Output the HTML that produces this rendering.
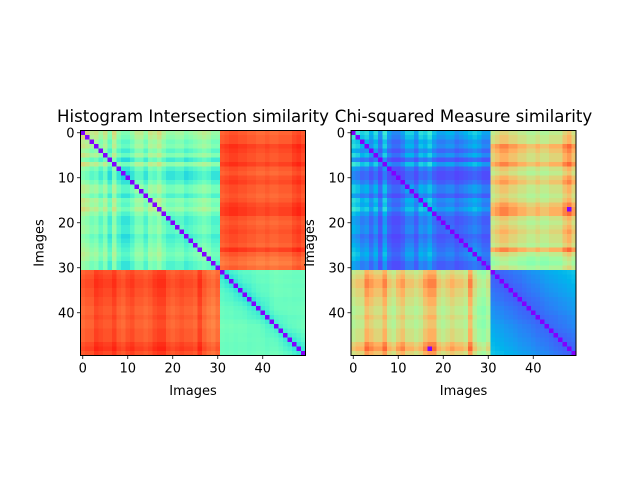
<!DOCTYPE html>
<html><head><meta charset="utf-8"><style>
html,body{margin:0;padding:0;background:#fff;width:640px;height:480px;overflow:hidden}
svg text{font-family:"DejaVu Sans","Liberation Sans",sans-serif;fill:#000}
</style></head><body>
<svg id="fig" width="640" height="480" viewBox="0 0 640 480" xmlns="http://www.w3.org/2000/svg"></svg>
<script>
// per-image features (block A = images 0..30, block B = 31..49)
const imageIds = Array.from({length:50},(_,i)=>i);
const withinFeature = [0.9,0.8,0.6,0.7,0.4,0.7,0.2,0.8,0.3,0.1,0.1,0.3,0.6,0.6,0.3,0.7,0.6,0.8,0.5,0.3,0.3,0.4,0.4,0.2,0.3,0.4,0.5,0.6,0.5,0.3,0.3,
  0.3,0.2,0.3,0.2,0.3,0.3,0.2,0.3,0.4,0.4,0.3,0.5,0.6,0.5,0.4,0.4,0.3,0.3,0.4];
const crossFeature = [0.5,0.6,0.6,0.9,0.8,0.7,0.7,0.9,0.6,0.5,0.7,0.8,0.6,0.6,0.5,0.6,0.8,0.9,0.9,0.6,0.5,0.6,0.7,0.6,0.6,0.5,0.9,0.5,0.3,0.2,0.4,
  0.6,0.7,0.8,0.8,0.7,0.7,0.6,0.6,0.5,0.5,0.6,0.5,0.5,0.6,0.6,0.6,0.8,0.9,0.7];
const tickValues = [0,10,20,30,40];
const titles = ["Histogram Intersection similarity","Chi-squared Measure similarity"];
const blockSplit = 31;

function rainbow(x){x=Math.max(0,Math.min(1,x));
  const r=Math.min(1,Math.abs(2*x-0.5)), g=Math.sin(Math.PI*x), b=Math.cos(Math.PI*x/2);
  return `rgb(${Math.round(r*255)},${Math.round(g*255)},${Math.round(b*255)})`;}
function avg(i,j,arr){return (arr[i]+arr[j])/2;}
function valueHist(i,j){ if(i===j) return 0;
  const a=i<blockSplit,b=j<blockSplit;
  if(a!==b) return 0.74+0.24*avg(i,j,crossFeature);
  if(!a) return 0.42+0.15*avg(i,j,withinFeature)-0.15*Math.exp(-Math.abs(i-j)/3);
  return 0.25+0.5*avg(i,j,withinFeature);}
function valueChi(i,j){ if(i===j) return 0;
  if((i===17&&j===48)||(i===48&&j===17)) return 0;
  const a=i<blockSplit,b=j<blockSplit;
  if(a!==b) return 0.4+0.55*Math.pow(avg(i,j,crossFeature),1.5);
  if(!a) return 0.1+0.18*Math.min(1,Math.abs(i-j)/20)+0.05*avg(i,j,withinFeature);
  return 0.08+0.4*Math.pow(avg(i,j,withinFeature),2);}

const NS="http://www.w3.org/2000/svg", svg=document.getElementById('fig');
function mk(t,at,p){const e=document.createElementNS(NS,t);for(const k in at)e.setAttribute(k,at[k]);(p||svg).appendChild(e);return e;}
const panels=[{x0:80.5,fn:valueHist,name:'histogram'},{x0:351,fn:valueChi,name:'chi-squared'}];
const y0=130.5, size=225, n=imageIds.length, cs=size/n;
const xs=(i,x0)=>x0+i*cs, ys=i=>y0+i*cs;
panels.forEach((p,pi)=>{
  const g=mk('g',{});
  
  
  imageIds.forEach(i=>imageIds.forEach(j=>{
    const r=mk('rect',{x:xs(j,p.x0),y:ys(i),width:cs+0.3,height:cs+0.3,fill:rainbow(p.fn(i,j))},g);
    
    
  }));
  const fr=mk('rect',{x:p.x0,y:y0,width:size,height:size,fill:'none',stroke:'#000','stroke-width':1});
  
  
  tickValues.forEach(v=>{
    const cx=p.x0+(v+0.5)*cs, cy=y0+(v+0.5)*cs;
    mk('line',{x1:cx,x2:cx,y1:y0+size,y2:y0+size+3.5,stroke:'#000','stroke-width':0.8});
    const tx=mk('text',{x:cx,y:y0+size+17,'font-size':13,'text-anchor':'middle'});tx.textContent=v;
    
    
    mk('line',{x1:p.x0-3.5,x2:p.x0,y1:cy,y2:cy,stroke:'#000','stroke-width':0.8});
    const ty=mk('text',{x:p.x0-6,y:cy+4.5,'font-size':13,'text-anchor':'end'});ty.textContent=v;
    
    
  });
  const xl=mk('text',{x:p.x0+size/2,y:395,'font-size':13,'text-anchor':'middle'});xl.textContent='Images';
  
  
  const yx=p.x0-37, yy=y0+size/2;
  const yl=mk('text',{x:yx,y:yy,'font-size':13,'text-anchor':'middle',transform:`rotate(-90 ${yx} ${yy})`});yl.textContent='Images';
  
  
  const tt=mk('text',{x:p.x0+size/2,y:122,'font-size':16.6,'text-anchor':'middle'});tt.textContent=titles[pi];
  
  
});
</script>
</body></html>
